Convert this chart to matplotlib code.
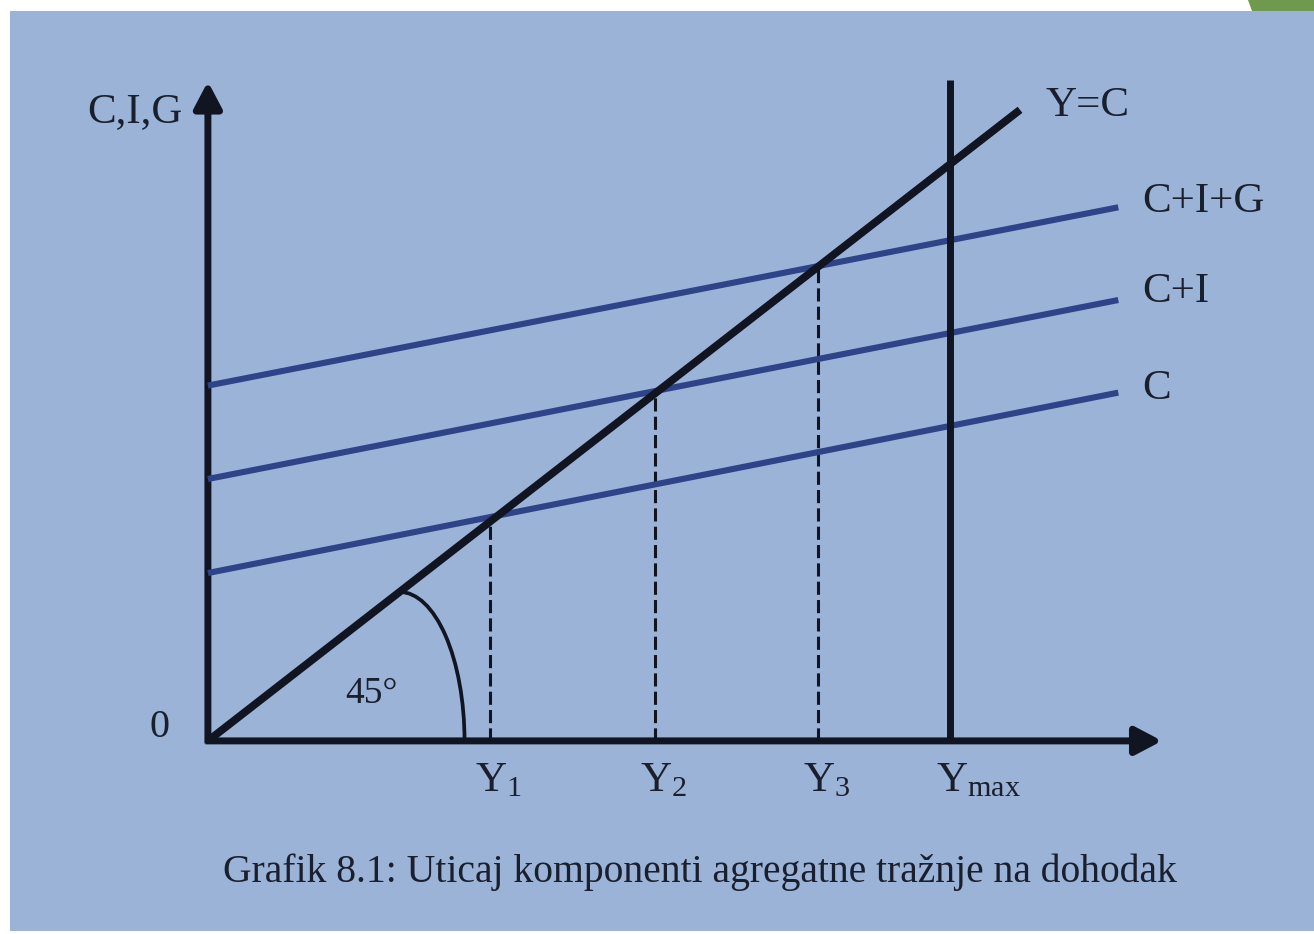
import matplotlib
matplotlib.use("Agg")
from matplotlib import pyplot as plt
from matplotlib.patches import Arc, Rectangle, Polygon
import numpy as np

plt.rcParams['font.family'] = ['Liberation Serif', 'DejaVu Serif']
plt.rcParams['mathtext.fontset'] = 'custom'
plt.rcParams['mathtext.rm'] = 'Liberation Serif'
plt.rcParams['mathtext.it'] = 'Liberation Serif:italic'

# aggregate demand lines: intercept on the vertical axis and slope
line_names = ['C', 'C+I', 'C+I+G']
intercepts = [26.6, 41.5, 56.3]
slopes = [0.255, 0.253, 0.252]
x_end = 112.1

# 45 degree line Y=C
yc_x = [0, 100]

# equilibrium incomes and full employment income
y_eq = [34.7, 55.0, 75.1]
y_eq_labels = [r'$\mathrm{Y}_1$', r'$\mathrm{Y}_2$', r'$\mathrm{Y}_3$']
y_max = 91.4
y_max_top = 104.8

bg = '#9bb3d7'
ink = '#111522'
navy = '#2f4389'

fig = plt.figure(figsize=(13.14, 9.34), dpi=100)
fig.patch.set_facecolor('white')
fig.patches.append(Rectangle((10 / 1314, 3 / 934), 1304 / 1314, 920 / 934,
                             transform=fig.transFigure, facecolor=bg,
                             edgecolor='none', zorder=-2))
fig.patches.append(Polygon([(1248 / 1314, 1), (1314 / 1314, 1),
                            (1314 / 1314, 1 - 11 / 934), (1252 / 1314, 1 - 11 / 934)],
                           closed=True, transform=fig.transFigure,
                           facecolor='#6f9a4e', edgecolor='none', zorder=-2))

ax = fig.add_axes([0, 0, 1, 1])
ax.set_zorder(1)
ax.set_xlim(-25.6, 136.2)
ax.set_ylim(-30.6, 117.4)
ax.axis('off')
ax.patch.set_alpha(0)

# axes with arrows
ax.annotate('', xy=(0, 104.5), xytext=(0, -0.4),
            arrowprops=dict(arrowstyle='-|>,head_length=0.8,head_width=0.42',
                            lw=5, color=ink, mutation_scale=20,
                            shrinkA=0, shrinkB=0, capstyle='butt'))
ax.annotate('', xy=(117.5, 0), xytext=(-0.3, 0),
            arrowprops=dict(arrowstyle='-|>,head_length=0.8,head_width=0.42',
                            lw=5, color=ink, mutation_scale=20,
                            shrinkA=0, shrinkB=0, capstyle='butt'))

# demand lines
xs = np.array([0, x_end])
for a, b in zip(intercepts, slopes):
    ax.plot(xs, a + b * xs, color=navy, lw=4.4, solid_capstyle='butt', zorder=3)

# Y=C
ax.plot(yc_x, yc_x, color=ink, lw=5.6, solid_capstyle='butt', zorder=4)

# Ymax
ax.plot([y_max, y_max], [0, y_max_top], color=ink, lw=5, solid_capstyle='butt', zorder=4)

# dashed equilibrium lines
for x, lab in zip(y_eq, y_eq_labels):
    ax.plot([x, x], [0, x], color=ink, lw=2.2, dashes=(4.3, 1.7), zorder=2)
    ax.text(x - 1.8, -3.3, lab, fontsize=31, ha='left', va='top', color='#1a1f2e')
ax.text(y_max - 1.8, -3.3, r'$\mathrm{Y}_{\mathrm{max}}$', fontsize=31,
        ha='left', va='top', color='#1a1f2e')

# 45 degree arc
ax.add_patch(Arc((23.6, 0), 16.0, 47.2, theta1=0, theta2=90,
                 color=ink, lw=2.7, zorder=4))
ax.text(20.2, 7.4, '45°', fontsize=27, ha='center', va='center', color='#1a1f2e')

# labels
ax.text(-3.1, 99.7, 'C,I,G', fontsize=31, ha='right', va='center', color='#1a1f2e')
ax.text(-5.9, 2.2, '0', fontsize=29, ha='center', va='center', color='#1a1f2e')
ax.text(103.1, 100.6, 'Y=C', fontsize=31, ha='left', va='center', color='#1a1f2e')
label_y = [55.8, 71.2, 85.5]
for name, ly in zip(line_names, label_y):
    ax.text(115.1, ly, name, fontsize=31, ha='left', va='center', color='#1a1f2e')

fig.text(700 / 1314, 1 - 872 / 934,
         'Grafik 8.1: Uticaj komponenti agregatne tražnje na dohodak',
         fontsize=28.5, ha='center', va='center', color='#1a1f2e')

fig.savefig('out.png', dpi=100, facecolor=fig.get_facecolor())
